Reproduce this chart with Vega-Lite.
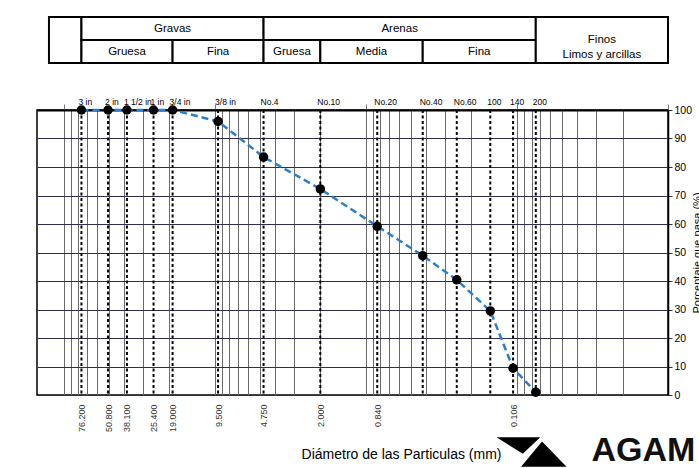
{
  "$schema": "https://vega.github.io/schema/vega-lite/v6.json",
  "padding": {"left": 36, "top": 16, "right": 0, "bottom": 0},
  "background": "white",
  "config": {"font": "Liberation Sans", "view": {"stroke": "black", "strokeWidth": 1.5}},
  "datasets": {
    "sieves": [
      {"sieve": "3 in", "mm": 76.2, "pct": 100},
      {"sieve": "2 in", "mm": 50.8, "pct": 100},
      {"sieve": "1 1/2 in", "mm": 38.1, "pct": 100},
      {"sieve": "1 in", "mm": 25.4, "pct": 100},
      {"sieve": "3/4 in", "mm": 19.0, "pct": 100},
      {"sieve": "3/8 in", "mm": 9.5, "pct": 96},
      {"sieve": "No.4", "mm": 4.75, "pct": 83.5},
      {"sieve": "No.10", "mm": 2.0, "pct": 72.3},
      {"sieve": "No.20", "mm": 0.84, "pct": 59.2},
      {"sieve": "No.40", "mm": 0.42, "pct": 48.9},
      {"sieve": "No.60", "mm": 0.25, "pct": 40.4},
      {"sieve": "100", "mm": 0.15, "pct": 29.5},
      {"sieve": "140", "mm": 0.106, "pct": 9.4},
      {"sieve": "200", "mm": 0.075, "pct": 1}
    ],
    "table": [
      {"label": "", "from": 125, "to": 76.2, "lo": 0, "hi": 2},
      {"label": "Gravas", "from": 76.2, "to": 4.75, "lo": 1, "hi": 2},
      {"label": "Gruesa", "from": 76.2, "to": 19.0, "lo": 0, "hi": 1},
      {"label": "Fina", "from": 19.0, "to": 4.75, "lo": 0, "hi": 1},
      {"label": "Arenas", "from": 4.75, "to": 0.075, "lo": 1, "hi": 2},
      {"label": "Gruesa", "from": 4.75, "to": 2.0, "lo": 0, "hi": 1},
      {"label": "Media", "from": 2.0, "to": 0.42, "lo": 0, "hi": 1},
      {"label": "Fina", "from": 0.42, "to": 0.075, "lo": 0, "hi": 1},
      {"label": "Finos\nLimos y arcillas", "from": 0.075, "to": 0.01, "lo": 0, "hi": 2}
    ],
    "brand": [{"name": "AGAM"}]
  },
  "spacing": 47,
  "bounds": "flush",
  "vconcat": [
    {
      "width": 631,
      "height": 46,
      "view": {"stroke": null},
      "data": {"name": "table"},
      "transform": [
        {"calculate": "sqrt(datum.from * datum.to)", "as": "mid"},
        {"calculate": "(datum.lo + datum.hi) / 2", "as": "ymid"}
      ],
      "layer": [
        {
          "mark": {"type": "rect", "fill": "white", "stroke": "black", "strokeWidth": 2},
          "encoding": {
            "x": {"field": "from", "type": "quantitative", "scale": {"type": "log", "domain": [0.01, 150], "reverse": true, "nice": false}, "axis": null},
            "x2": {"field": "to"},
            "y": {"field": "lo", "type": "quantitative", "scale": {"domain": [0, 2], "nice": false, "zero": false}, "axis": null},
            "y2": {"field": "hi"}
          }
        },
        {
          "mark": {"type": "text", "fontSize": 11.5, "lineBreak": "\n", "baseline": "middle", "lineHeight": 15, "color": "black"},
          "encoding": {
            "x": {"field": "mid", "type": "quantitative", "scale": {"type": "log", "domain": [0.01, 150], "reverse": true, "nice": false}, "axis": null},
            "y": {"field": "ymid", "type": "quantitative", "axis": null},
            "text": {"field": "label"}
          }
        }
      ]
    },
    {
      "width": 631,
      "height": 285,
      "data": {"name": "sieves"},
      "resolve": {"axis": {"x": "independent", "y": "independent"}},
      "layer": [
        {
          "mark": {"type": "rule", "strokeDash": [3, 2.5], "strokeWidth": 2, "color": "black"},
          "encoding": {
            "x": {
              "field": "mm", "type": "quantitative",
              "scale": {"type": "log", "domain": [0.01, 150], "reverse": true, "nice": false},
              "axis": {
                "values": [76.2, 50.8, 38.1, 25.4, 19.0, 9.5, 4.75, 2.0, 0.84, 0.106],
                "format": ".3f", "labelAngle": 270, "labelFontSize": 9, "labelColor": "#333",
                "labelPadding": 9, "labelOverlap": false, "labelFlush": false,
                "ticks": false, "domain": false, "grid": false,
                "title": "Diámetro de las Particulas (mm)", "titleFontSize": 14, "titleFontWeight": "normal",
                "titleColor": "black", "titleX": 364, "titlePadding": 16
              }
            }
          }
        },
        {
          "mark": {"type": "line", "color": "#2a7fd0", "strokeWidth": 2.5, "strokeDash": [7, 4]},
          "encoding": {
            "x": {
              "field": "mm", "type": "quantitative",
              "axis": {
                "values": [0.01, 0.02, 0.03, 0.04, 0.05, 0.06, 0.07, 0.08, 0.09, 0.1, 0.2, 0.3, 0.4, 0.5, 0.6, 0.7, 0.8, 0.9, 1, 2, 3, 4, 5, 6, 7, 8, 9, 10, 20, 30, 40, 50, 60, 70, 80, 90, 100],
                "grid": true, "gridColor": "#6a6a6a", "gridWidth": 1, "labels": false, "ticks": false, "domain": false, "title": null
              }
            },
            "y": {
              "field": "pct", "type": "quantitative",
              "scale": {"domain": [0, 100], "nice": false},
              "axis": {
                "orient": "right", "values": [0, 10, 20, 30, 40, 50, 60, 70, 80, 90, 100],
                "grid": true, "gridColor": "#2e2e50", "gridWidth": 1.2,
                "tickSize": 4, "tickColor": "#333", "labelFontSize": 10.5, "labelColor": "black", "labelPadding": 2,
                "domainColor": "black", "domainWidth": 1.5,
                "title": "Porcentaje que pasa (%)", "titleAngle": 270, "titleBaseline": "top", "titleFontSize": 11, "titleFontWeight": "normal",
                "titleColor": "black", "titlePadding": 0
              }
            }
          }
        },
        {
          "mark": {"type": "point", "filled": true, "color": "black", "size": 90, "opacity": 1},
          "encoding": {
            "x": {
              "field": "mm", "type": "quantitative",
              "axis": {
                "values": [0.01, 0.1, 1, 10, 100], "labels": false, "ticks": true, "tickSize": 6, "tickColor": "#777",
                "domain": true, "domainColor": "black", "domainWidth": 2, "grid": false, "title": null
              }
            },
            "y": {"field": "pct", "type": "quantitative", "axis": null}
          }
        },
        {
          "mark": {"type": "text", "fontSize": 8.5, "align": "left", "dx": -3, "dy": -5, "baseline": "alphabetic", "color": "black"},
          "encoding": {
            "x": {"field": "mm", "type": "quantitative", "axis": null},
            "y": {"datum": 100, "type": "quantitative", "axis": null},
            "text": {"field": "sieve"}
          }
        },
        {
          "data": {"name": "brand"},
          "mark": {"type": "text", "fontSize": 34, "fontWeight": "bold", "align": "right", "baseline": "alphabetic", "color": "#111", "font": "Liberation Sans"},
          "encoding": {
            "x": {"datum": 0.0066, "type": "quantitative", "axis": null},
            "y": {"datum": -23, "type": "quantitative", "axis": null},
            "text": {"field": "name"}
          }
        },
        {
          "data": {"name": "brand"},
          "mark": {"type": "point", "filled": true, "color": "black", "opacity": 1, "size": 4900,
                   "shape": "M -1 -0.42 L 0.25 -0.42 L -0.25 0.05 Z M -0.3 0.42 L 0.3 -0.3 L 1 0.42 Z"},
          "encoding": {
            "x": {"datum": 0.08, "type": "quantitative", "axis": null},
            "y": {"datum": -20, "type": "quantitative", "axis": null}
          }
        }
      ]
    }
  ]
}
